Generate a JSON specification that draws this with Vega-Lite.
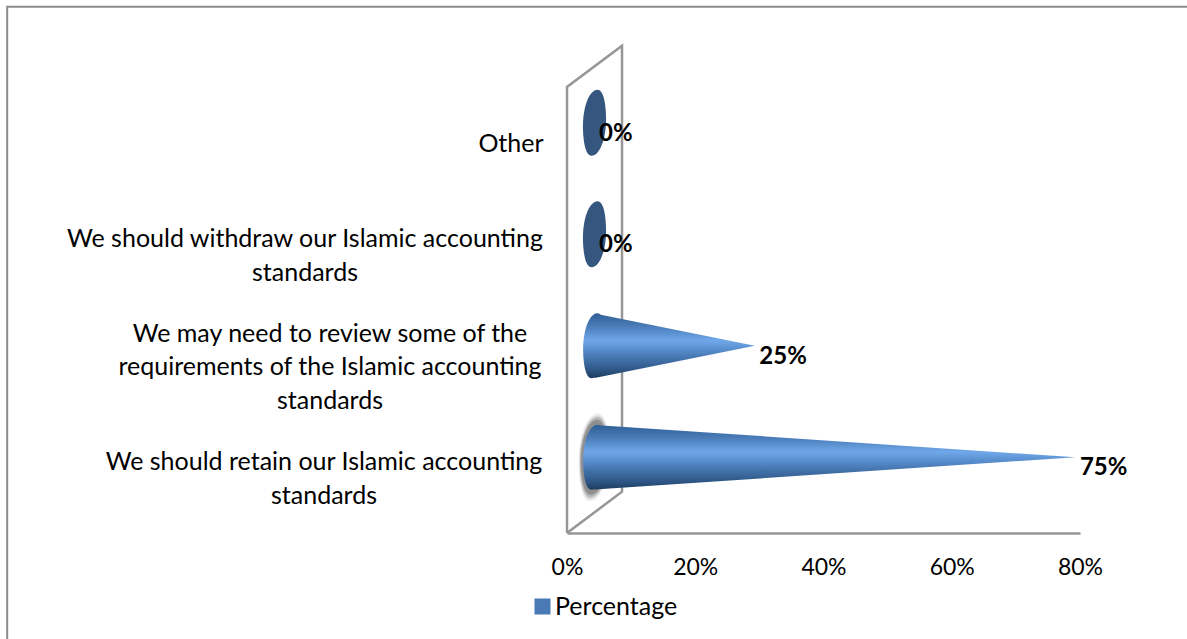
{
"$schema":"https://vega.github.io/schema/vega-lite/v6.json",
"width":513,"height":446,"autosize":"none",
"padding":{"left":567,"top":87,"right":107,"bottom":106},
"background":"white",
"config":{"view":{"stroke":null},"font":"Lato"},
"datasets":{
"answers":[
{"category":"We should retain our Islamic accounting\nstandards","rank":0.5,"pct":75,"label":"75%","series":"Percentage"},
{"category":"We may need to review some of the\nrequirements of the Islamic accounting\nstandards","rank":1.5,"pct":25,"label":"25%","series":"Percentage"},
{"category":"We should withdraw our Islamic accounting\nstandards","rank":2.5,"pct":0,"label":"0%","series":"Percentage"},
{"category":"Other","rank":3.5,"pct":0,"label":"0%","series":"Percentage"}],
"cones":[
{"rank":0.5,"pct":0,"low":0.21,"high":0.79},
{"rank":0.5,"pct":75,"low":0.5,"high":0.5},
{"rank":1.5,"pct":0,"low":1.21,"high":1.79},
{"rank":1.5,"pct":25,"low":1.5,"high":1.5}],
"frame":[
{"part":"wall","step":1,"x":0,"y":0},
{"part":"wall","step":2,"x":0,"y":4},
{"part":"wall","step":3,"x":8.58,"y":4.37},
{"part":"wall","step":4,"x":8.58,"y":0.37},
{"part":"wall","step":5,"x":0,"y":0},
{"part":"border","step":1,"x":-87.3,"y":-0.95},
{"part":"border","step":2,"x":-87.3,"y":4.72},
{"part":"border","step":3,"x":96.7,"y":4.72}]
},
"layer":[
{"data":{"name":"frame"},"transform":[{"filter":"datum.part=='border'"}],
 "mark":{"type":"line","color":"#8c8c8c","strokeWidth":2,"strokeJoin":"miter"},
 "encoding":{
  "x":{"field":"x","type":"quantitative","scale":{"domain":[0,80],"nice":false},
   "axis":{"values":[0,20,40,60,80],"labelExpr":"datum.value+'%'","title":null,"grid":false,"ticks":false,"domainColor":"#969696","domainWidth":2.5,"labelFontSize":23,"labelColor":"#000000","labelPadding":23,"labelFlush":false}},
  "y":{"field":"y","type":"quantitative","scale":{"domain":[0,4],"nice":false},"axis":null},
  "order":{"field":"step"}
 }},
{"data":{"name":"frame"},"transform":[{"filter":"datum.part=='wall'"}],
 "mark":{"type":"line","color":"#969696","strokeWidth":2.5,"strokeJoin":"miter"},
 "encoding":{"x":{"field":"x","type":"quantitative"},"y":{"field":"y","type":"quantitative"},"order":{"field":"step"}}},
{"data":{"name":"answers"},"transform":[{"filter":"datum.pct>=50"}],
 "mark":{"type":"point","filled":true,"shape":"M0.09,-1 C0.3,-1 0.35,-0.45 0.35,-0.1 C0.35,0.5 0.15,1 -0.09,1 C-0.3,1 -0.35,0.45 -0.35,0.1 C-0.35,-0.5 -0.15,-1 0.09,-1 Z","size":7744,"fill":"#555555","opacity":0.1,"xOffset":27,"yOffset":-20},
 "encoding":{"x":{"datum":0,"type":"quantitative"},"y":{"field":"rank","type":"quantitative"}}},
{"data":{"name":"answers"},"transform":[{"filter":"datum.pct>=50"}],
 "mark":{"type":"point","filled":true,"shape":"M0.09,-1 C0.3,-1 0.35,-0.45 0.35,-0.1 C0.35,0.5 0.15,1 -0.09,1 C-0.3,1 -0.35,0.45 -0.35,0.1 C-0.35,-0.5 -0.15,-1 0.09,-1 Z","size":7000,"fill":"#555555","opacity":0.15,"xOffset":27,"yOffset":-20},
 "encoding":{"x":{"datum":0,"type":"quantitative"},"y":{"field":"rank","type":"quantitative"}}},
{"data":{"name":"answers"},"transform":[{"filter":"datum.pct>=50"}],
 "mark":{"type":"point","filled":true,"shape":"M0.09,-1 C0.3,-1 0.35,-0.45 0.35,-0.1 C0.35,0.5 0.15,1 -0.09,1 C-0.3,1 -0.35,0.45 -0.35,0.1 C-0.35,-0.5 -0.15,-1 0.09,-1 Z","size":6400,"fill":"#555555","opacity":0.25,"xOffset":27,"yOffset":-20},
 "encoding":{"x":{"datum":0,"type":"quantitative"},"y":{"field":"rank","type":"quantitative"}}},
{"data":{"name":"answers"},"transform":[{"filter":"datum.pct>=50"}],
 "mark":{"type":"point","filled":true,"shape":"M0.09,-1 C0.3,-1 0.35,-0.45 0.35,-0.1 C0.35,0.5 0.15,1 -0.09,1 C-0.3,1 -0.35,0.45 -0.35,0.1 C-0.35,-0.5 -0.15,-1 0.09,-1 Z","size":5600,"fill":"#555555","opacity":0.4,"xOffset":27,"yOffset":-20},
 "encoding":{"x":{"datum":0,"type":"quantitative"},"y":{"field":"rank","type":"quantitative"}}},
{"data":{"name":"answers"},"transform":[{"filter":"datum.pct>0"}],
 "mark":{"type":"point","filled":true,"opacity":1,"shape":"M0.09,-1 C0.3,-1 0.35,-0.45 0.35,-0.1 C0.35,0.5 0.15,1 -0.09,1 C-0.3,1 -0.35,0.45 -0.35,0.1 C-0.35,-0.5 -0.15,-1 0.09,-1 Z","size":4225,"xOffset":27.5,"yOffset":-20,
  "fill":{"x1":0,"y1":0,"x2":0,"y2":1,"gradient":"linear","stops":[{"offset":0,"color":"#2f5f96"},{"offset":0.2,"color":"#4a7cb8"},{"offset":0.42,"color":"#6fa8ea"},{"offset":0.65,"color":"#4a7cb8"},{"offset":0.9,"color":"#2b527f"},{"offset":1,"color":"#1c3a5c"}]}},
 "encoding":{"x":{"datum":0,"type":"quantitative"},"y":{"field":"rank","type":"quantitative"}}},
{"data":{"name":"cones"},
 "mark":{"type":"area","orient":"vertical","xOffset":27.5,"yOffset":-20,"y2Offset":-20,
  "fill":{"x1":0,"y1":0,"x2":0,"y2":1,"gradient":"linear","stops":[{"offset":0,"color":"#2f5f96"},{"offset":0.2,"color":"#4a7cb8"},{"offset":0.42,"color":"#6fa8ea"},{"offset":0.65,"color":"#4a7cb8"},{"offset":0.9,"color":"#2b527f"},{"offset":1,"color":"#1c3a5c"}]}},
 "encoding":{"x":{"field":"pct","type":"quantitative"},"y":{"field":"low","type":"quantitative"},"y2":{"field":"high"},"detail":{"field":"rank"}}},
{"data":{"name":"answers"},"transform":[{"filter":"datum.pct==0"}],
 "mark":{"type":"point","filled":true,"opacity":1,"fill":"#34567f","shape":"M0.09,-1 C0.3,-1 0.35,-0.45 0.35,-0.1 C0.35,0.5 0.15,1 -0.09,1 C-0.3,1 -0.35,0.45 -0.35,0.1 C-0.35,-0.5 -0.15,-1 0.09,-1 Z","size":4356,"xOffset":27.5,"yOffset":-20},
 "encoding":{"x":{"field":"pct","type":"quantitative"},"y":{"field":"rank","type":"quantitative"}}},
{"data":{"name":"answers"},
 "mark":{"type":"point","filled":true,"size":0,"opacity":1},
 "encoding":{"x":{"field":"pct","type":"quantitative"},"y":{"field":"rank","type":"quantitative"},
  "color":{"field":"series","type":"nominal","scale":{"range":["#4a7ab5"]},
   "legend":{"title":null,"orient":"none","legendX":-37,"legendY":507,"symbolType":"square","symbolSize":256,"labelFontSize":25,"labelColor":"#000000","labelOffset":0,"labelLimit":0}}}},
{"data":{"name":"answers"},
 "mark":{"type":"text","align":"left","baseline":"middle","fontWeight":"bold","fontSize":24,"color":"#000000","xOffset":32,"yOffset":-9},
 "encoding":{"x":{"field":"pct","type":"quantitative"},"y":{"field":"rank","type":"quantitative"},"text":{"field":"label"}}},
{"data":{"name":"answers"},
 "mark":{"type":"text","align":"center","baseline":"middle","lineBreak":"\n","lineHeight":33.5,"fontSize":25,"color":"#000000",
  "dx":{"expr":"datum.rank==0.5?-243:datum.rank==1.5?-237:datum.rank==2.5?-262:-56"},
  "dy":{"expr":"datum.rank==3.5?1.5:datum.rank==1.5?-32:-15"}},
 "encoding":{"x":{"datum":0,"type":"quantitative"},"y":{"field":"rank","type":"quantitative"},"text":{"field":"category"}}}
]
}
